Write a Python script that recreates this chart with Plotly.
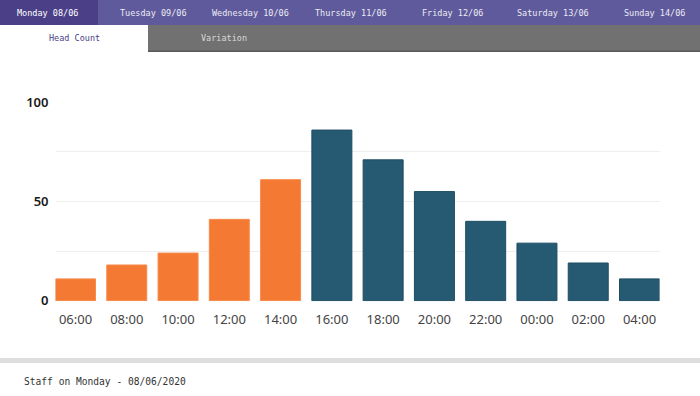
import plotly.graph_objects as go

hours = ["06:00", "08:00", "10:00", "12:00", "14:00", "16:00",
         "18:00", "20:00", "22:00", "00:00", "02:00", "04:00"]
head_count = [11, 18, 24, 41, 61, 86, 71, 55, 40, 29, 19, 11]
shift = ["day", "day", "day", "day", "day", "night",
         "night", "night", "night", "night", "night", "night"]
day_tabs = ["Monday 08/06", "Tuesday 09/06", "Wednesday 10/06", "Thursday 11/06",
            "Friday 12/06", "Saturday 13/06", "Sunday 14/06"]
sub_tabs = ["Head Count", "Variation"]
footer = "Staff on Monday - 08/06/2020"
y_ticks = [0, 25, 50, 75, 100]
y_ticktext = ["0", "", "50", "", "100"]

W, H = 700, 396
fill = {"day": "#F47A33", "night": "#265A72"}
edge = {"day": "#F68A4A", "night": "#1D4D63"}

fig = go.Figure()
fig.add_trace(go.Bar(
    x=list(range(len(hours))), y=head_count,
    width=0.78,
    marker=dict(color=[fill[s] for s in shift],
                line=dict(color=[edge[s] for s in shift], width=1)),
    hoverinfo="skip",
))

def px(x):
    return x / W

def py(y):
    return 1 - y / H

shapes = []
# header band
shapes.append(dict(type="rect", xref="paper", yref="paper", x0=0, x1=1,
                   y0=py(25), y1=1, fillcolor="#5F5A9B", line_width=0, layer="below"))
shapes.append(dict(type="rect", xref="paper", yref="paper", x0=0, x1=px(98),
                   y0=py(25), y1=1, fillcolor="#4B3F88", line_width=0, layer="below"))
# sub tabs
shapes.append(dict(type="rect", xref="paper", yref="paper", x0=px(148), x1=1,
                   y0=py(51), y1=py(25), fillcolor="#717171", line_width=0, layer="below"))
shapes.append(dict(type="rect", xref="paper", yref="paper", x0=px(148), x1=1,
                   y0=py(52), y1=py(50.5), fillcolor="#5A5A5A", line_width=0, layer="below"))
# footer divider
shapes.append(dict(type="rect", xref="paper", yref="paper", x0=0, x1=1,
                   y0=py(363), y1=py(358), fillcolor="#DEDEDE", line_width=0, layer="below"))

annotations = []
tab_centers = [47, 153, 250, 351, 452, 553, 654]
for i, (t, cx) in enumerate(zip(day_tabs, tab_centers)):
    annotations.append(dict(text=t, x=px(cx), y=py(13), xref="paper", yref="paper",
                            showarrow=False, xanchor="center", yanchor="middle",
                            font=dict(family="DejaVu Sans Mono", size=8.5,
                                      color="#FFFFFF" if i == 0 else "#ECEBF5")))
sub_centers = [74, 224]
sub_colors = ["#4B3F88", "#DADADA"]
for t, cx, c in zip(sub_tabs, sub_centers, sub_colors):
    annotations.append(dict(text=t, x=px(cx), y=py(38), xref="paper", yref="paper",
                            showarrow=False, xanchor="center", yanchor="middle",
                            font=dict(family="DejaVu Sans Mono", size=8.5, color=c)))
annotations.append(dict(text=footer, x=px(22), y=py(381), xref="paper", yref="paper",
                        showarrow=False, xanchor="left", yanchor="middle",
                        font=dict(family="DejaVu Sans Mono", size=9.6, color="#333333")))

fig.update_layout(
    width=W, height=H, autosize=False,
    margin=dict(l=0, r=0, t=0, b=0, pad=0),
    paper_bgcolor="white", plot_bgcolor="white",
    showlegend=False,
    shapes=shapes, annotations=annotations,
    bargap=0.22,
    xaxis=dict(domain=[px(55.5), px(659.5)], range=[-0.39, 11.39], automargin=False,
               tickmode="array", tickvals=list(range(len(hours))), ticktext=hours,
               showgrid=False, zeroline=False, showline=False, ticks="",
               ticklabelstandoff=9,
               tickfont=dict(family="Noto Sans", size=13, color="#444444"),
               fixedrange=True),
    yaxis=dict(domain=[py(301.3), py(101.7)], range=[-0.3, 100.3], automargin=False,
               tickmode="array", tickvals=y_ticks, ticktext=y_ticktext,
               showgrid=True, gridcolor="#EEEEEE", gridwidth=1,
               zeroline=False, showline=False, ticks="", ticklabelstandoff=6,
               tickfont=dict(family="Noto Sans", size=13, color="#1A1A1A", weight=600),
               fixedrange=True),
)

page_fix = (
    "document.body.style.margin='0';"
    "document.body.style.overflow='hidden';"
    "var gd=document.getElementById('{plot_id}');"
    "gd.style.position='absolute';gd.style.left='0px';gd.style.top='0px';"
)

fig.write_html("out.html", config={"displayModeBar": False}, post_script=page_fix)
